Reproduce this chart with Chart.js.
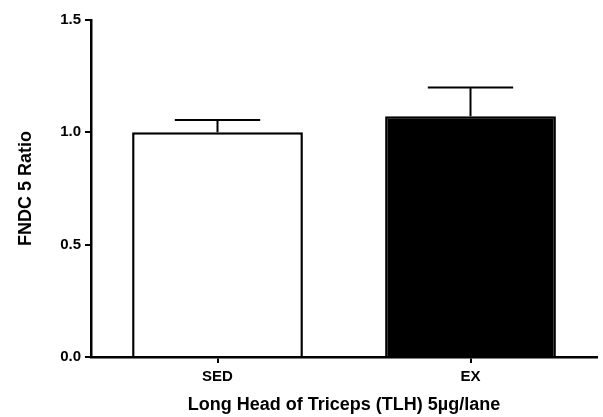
<!DOCTYPE html>
<html>
<head>
<meta charset="utf-8">
<script src="https://cdn.jsdelivr.net/npm/chart.js@4"></script>
<style>
  html, body { margin: 0; padding: 0; background: #fff; }
  #wrap { width: 603px; height: 417px; }
</style>
</head>
<body>
<div id="wrap"><canvas id="fndcChart" width="603" height="417"></canvas></div>
<script>
  // values
  const groups = ['SED', 'EX'];
  const ratio = [1.0, 1.072];
  const sem = [0.055, 0.128];
  const fills = ['#ffffff', '#000000'];
  const yTicks = [0, 0.5, 1.0, 1.5];

  // simple upper-only error bars (mean + SEM)
  const errorBars = {
    id: 'errorBars',
    afterDatasetsDraw(chart) {
      const ctx = chart.ctx;
      const yScale = chart.scales.y;
      const meta = chart.getDatasetMeta(0);
      meta.data.forEach((bar, i) => {
        const top = yScale.getPixelForValue(ratio[i]);
        const tip = yScale.getPixelForValue(ratio[i] + sem[i]);
        const half = bar.width / 4;
        ctx.save();
        ctx.strokeStyle = '#000';
        ctx.lineWidth = 2;
        ctx.beginPath();
        ctx.moveTo(bar.x, top);
        ctx.lineTo(bar.x, tip);
        ctx.moveTo(bar.x - half, tip);
        ctx.lineTo(bar.x + half, tip);
        ctx.stroke();
        ctx.restore();
      });
    }
  };

  const ctx = document.getElementById('fndcChart').getContext('2d');

  new Chart(ctx, {
    type: 'bar',
    data: {
      labels: groups,
      datasets: [{
        data: ratio,
        backgroundColor: fills,
        borderColor: '#000',
        borderWidth: 2.5,
        barPercentage: 0.75,
        categoryPercentage: 0.9
      }]
    },
    options: {
      responsive: false,
      animation: false,
      layout: { padding: { top: 20, right: 6, bottom: 1, left: 0 } },
      plugins: {
        legend: { display: false },
        tooltip: { enabled: false }
      },
      scales: {
        x: {
          offset: true,
          grid: { display: true, drawOnChartArea: false, offset: false, color: '#000', lineWidth: 2, tickLength: 6 },
          border: { display: true, color: '#000', width: 2.5 },
          ticks: { color: '#000', padding: 5, font: { family: 'Liberation Sans, Arial, sans-serif', size: 15, weight: 'bold' } },
          title: {
            display: true,
            text: 'Long Head of Triceps (TLH) 5µg/lane',
            color: '#000',
            padding: { top: 0, bottom: 0 },
            font: { family: 'Liberation Sans, Arial, sans-serif', size: 18, weight: 'bold' }
          },
          afterFit(scale) { scale.height = 59; }
        },
        y: {
          min: 0,
          max: 1.5,
          afterBuildTicks(scale) { scale.ticks = yTicks.map(v => ({ value: v })); },
          grid: { display: true, drawOnChartArea: false, color: '#000', lineWidth: 2, tickLength: 6 },
          border: { display: true, color: '#000', width: 2.5 },
          ticks: {
            color: '#000',
            padding: 4,
            callback: v => v.toFixed(1),
            font: { family: 'Liberation Sans, Arial, sans-serif', size: 15, weight: 'bold' }
          },
          title: {
            display: true,
            text: 'FNDC 5 Ratio',
            color: '#000',
            padding: { top: 15, bottom: 0 },
            font: { family: 'Liberation Sans, Arial, sans-serif', size: 18, weight: 'bold' }
          },
          afterFit(scale) { scale.width = 91; }
        }
      }
    },
    plugins: [errorBars]
  });
</script>
</body>
</html>
